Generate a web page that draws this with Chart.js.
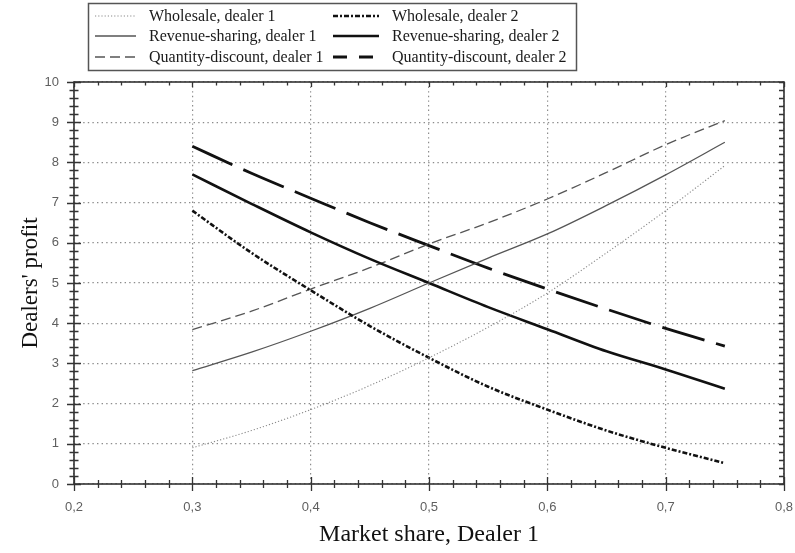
<!DOCTYPE html>
<html>
<head>
<meta charset="utf-8">
<script src="https://cdn.jsdelivr.net/npm/chart.js@4"></script>
<style>
  html, body { margin: 0; padding: 0; background: #fff; }
  #wrap { position: relative; width: 795px; height: 553px; }
</style>
</head>
<body>
<div id="wrap"><canvas id="c" width="795" height="553"></canvas></div>
<script>
// Market share of dealer 1 (x) and the dealers' profit under each contract (y)
const shares = [0.30, 0.35, 0.40, 0.45, 0.50, 0.55, 0.60, 0.65, 0.70, 0.75];
const wholesaleD1 = [0.90, 1.33, 1.85, 2.45, 3.14, 3.90, 4.75, 5.75, 6.80, 7.92];
const wholesaleD2 = [6.80, 5.75, 4.82, 3.93, 3.14, 2.42, 1.85, 1.33, 0.90, 0.52];
const revenueD1   = [2.82, 3.28, 3.80, 4.37, 5.00, 5.62, 6.22, 6.93, 7.69, 8.50];
const revenueD2   = [7.70, 6.97, 6.26, 5.60, 5.00, 4.40, 3.85, 3.30, 2.85, 2.37];
const quantityD1  = [3.84, 4.30, 4.85, 5.38, 5.97, 6.50, 7.09, 7.75, 8.44, 9.04];
const quantityD2  = [8.40, 7.73, 7.11, 6.50, 5.93, 5.37, 4.85, 4.35, 3.87, 3.43];

const seriesNames = [
  'Wholesale, dealer 1', 'Wholesale, dealer 2',
  'Revenue-sharing, dealer 1', 'Revenue-sharing, dealer 2',
  'Quantity-discount, dealer 1', 'Quantity-discount, dealer 2'
];
const xTickValues = [0.2, 0.3, 0.4, 0.5, 0.6, 0.7, 0.8];
const yTickValues = [0, 1, 2, 3, 4, 5, 6, 7, 8, 9, 10];

const toPoints = ys => shares.map((x, i) => ({ x: x, y: ys[i] }));

const lineStyles = [
  { color: '#8a8a8a', width: 1.1, dash: [1.2, 2] },
  { color: '#111',    width: 2.6, dash: [5, 2, 2, 2] },
  { color: '#555',    width: 1.3, dash: [] },
  { color: '#111',    width: 2.6, dash: [] },
  { color: '#555',    width: 1.3, dash: [10, 5] },
  { color: '#111',    width: 2.8, dash: [44, 12] }
];
const seriesValues = [wholesaleD1, wholesaleD2, revenueD1, revenueD2, quantityD1, quantityD2];

const datasets = seriesValues.map((vals, i) => ({
  label: seriesNames[i],
  data: toPoints(vals),
  showLine: true,
  borderColor: lineStyles[i].color,
  borderWidth: lineStyles[i].width,
  borderDash: lineStyles[i].dash,
  pointRadius: 0,
  tension: 0.4,
  cubicInterpolationMode: 'monotone',
  fill: false
}));

const fmt = v => v.toFixed(1).replace('.', ',');

// Frame around the plot plus major/minor tick marks on all four sides
const framePlugin = {
  id: 'frameTicks',
  afterDraw(chart) {
    const { ctx, chartArea: a, scales: { x, y } } = chart;
    ctx.save();
    ctx.strokeStyle = '#333';
    ctx.lineWidth = 1.6;
    ctx.strokeRect(a.left, a.top, a.right - a.left, a.bottom - a.top);
    ctx.lineWidth = 1.3;
    ctx.beginPath();
    for (let i = 0; i <= 30; i++) {
      const px = Math.round(x.getPixelForValue(0.2 + i * 0.02)) + 0.5;
      const major = i % 5 === 0;
      const L = major ? 7 : 4;
      ctx.moveTo(px, a.bottom - L); ctx.lineTo(px, a.bottom + L);
      ctx.moveTo(px, a.top); ctx.lineTo(px, a.top + (major ? 5 : 3.5));
    }
    for (let i = 0; i <= 50; i++) {
      const py = Math.round(y.getPixelForValue(i * 0.2)) + 0.5;
      const L = i % 5 === 0 ? 7 : 4.5;
      ctx.moveTo(a.left - L, py); ctx.lineTo(a.left + L, py);
      ctx.moveTo(a.right - 5, py); ctx.lineTo(a.right, py);
    }
    ctx.stroke();
    ctx.restore();
  }
};

// Boxed two-column legend above the plot
const legendPlugin = {
  id: 'boxLegend',
  afterDraw(chart) {
    const { ctx } = chart;
    const box = { x: 88.5, y: 3.5, w: 488, h: 67 };
    ctx.save();
    ctx.fillStyle = '#fff';
    ctx.fillRect(box.x, box.y, box.w, box.h);
    ctx.strokeStyle = '#555';
    ctx.lineWidth = 1.5;
    ctx.strokeRect(box.x, box.y, box.w, box.h);
    const cols = [{ s0: 95, s1: 136, t: 149 }, { s0: 333, s1: 379, t: 392 }];
    const rows = [16, 36, 57];
    ctx.font = '16px "Liberation Serif", "Times New Roman", serif';
    ctx.textBaseline = 'middle';
    chart.data.datasets.forEach((ds, i) => {
      const c = cols[i % 2], r = rows[Math.floor(i / 2)];
      ctx.beginPath();
      ctx.strokeStyle = ds.borderColor;
      ctx.lineWidth = ds.borderWidth;
      const d = ds.borderDash.length ? ds.borderDash.map(v => Math.min(v, 14)) : [];
      ctx.setLineDash(d);
      ctx.moveTo(c.s0, r); ctx.lineTo(c.s1, r);
      ctx.stroke();
      ctx.setLineDash([]);
      ctx.fillStyle = '#1a1a1a';
      ctx.fillText(ds.label, c.t, r + 1);
    });
    ctx.restore();
  }
};

const tickFont = { family: 'Arial, "Liberation Sans", sans-serif', size: 13 };

new Chart(document.getElementById('c'), {
  type: 'scatter',
  data: { datasets },
  options: {
    responsive: false,
    animation: false,
    devicePixelRatio: 1,
    layout: { padding: { top: 82, right: 11, left: 0, bottom: 0 } },
    plugins: { legend: { display: false }, tooltip: { enabled: false } },
    scales: {
      x: {
        type: 'linear', min: 0.2, max: 0.8,
        afterFit(s) { s.height = 69; s.paddingLeft = 0; s.paddingRight = 0; },
        afterBuildTicks(s) { s.ticks = xTickValues.map(v => ({ value: v })); },
        ticks: {
          padding: 16,
          color: '#5f5f5f',
          font: tickFont,
          callback: v => fmt(v)
        },
        grid: { color: '#8c8c8c', lineWidth: 1.2, drawTicks: false },
        border: { display: false, dash: [1.4, 3.2] },
        title: {
          display: true, text: 'Market share, Dealer 1', color: '#111',
          font: { family: '"Liberation Serif", "Times New Roman", serif', size: 24 },
          padding: { top: 0, bottom: 4 }
        }
      },
      y: {
        type: 'linear', min: 0, max: 10,
        afterFit(s) { s.width = 74; s.paddingTop = 0; s.paddingBottom = 0; },
        afterBuildTicks(s) { s.ticks = yTickValues.map(v => ({ value: v })); },
        ticks: {
          padding: 15,
          color: '#5f5f5f',
          font: tickFont,
          callback: v => String(v)
        },
        grid: { color: '#8c8c8c', lineWidth: 1.2, drawTicks: false },
        border: { display: false, dash: [1.4, 3.2] },
        title: {
          display: true, text: "Dealers' profit", color: '#111',
          font: { family: '"Liberation Serif", "Times New Roman", serif', size: 23 },
          padding: { top: 17, bottom: 0 }
        }
      }
    }
  },
  plugins: [framePlugin, legendPlugin]
});
</script>
</body>
</html>
